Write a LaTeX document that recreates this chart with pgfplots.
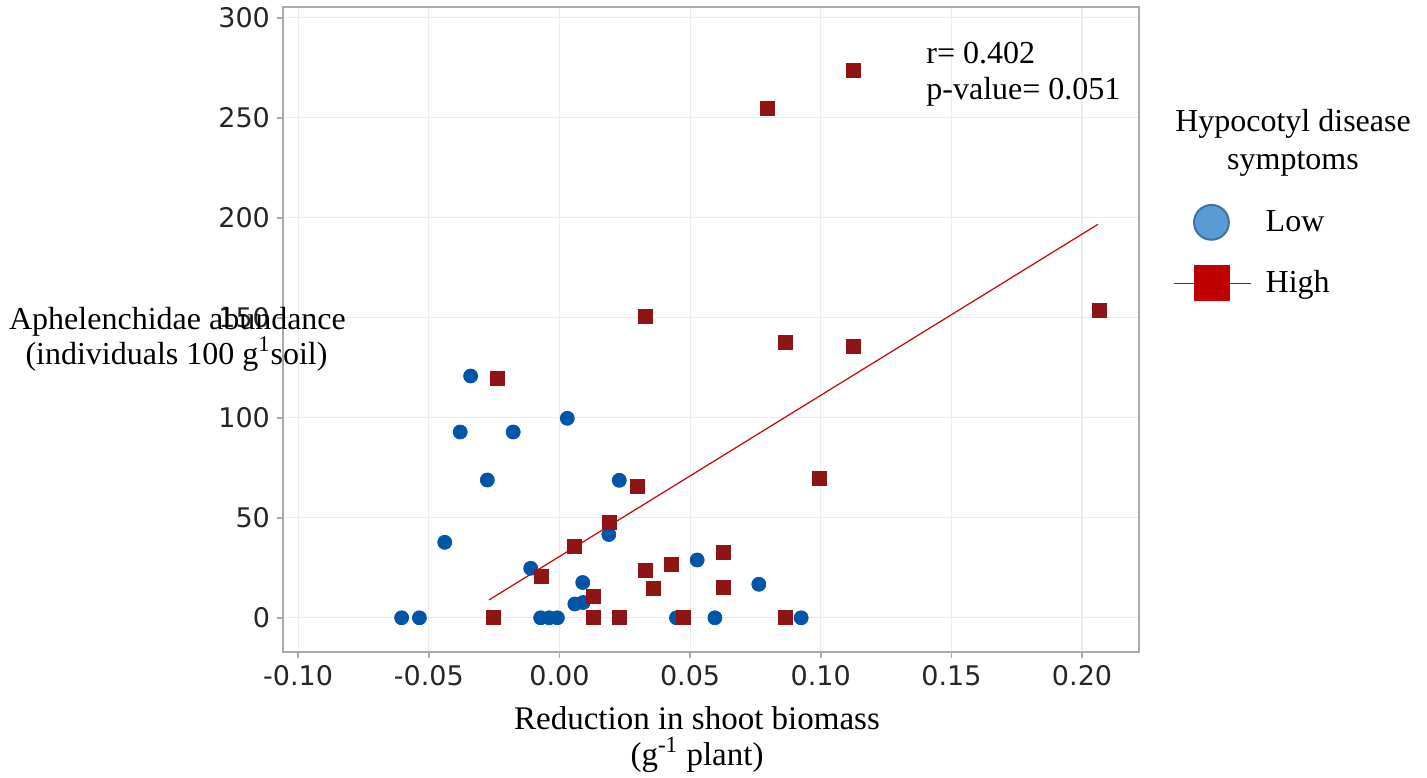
\documentclass[border=0pt]{standalone}
\usepackage{fontspec}
\setmainfont{Liberation Serif}
\newfontfamily\tickfont{DejaVu Sans}
\usepackage{pgfplots}
\pgfplotsset{compat=1.18}
\definecolor{ptblue}{RGB}{0,86,166}
\definecolor{ptred}{RGB}{143,20,20}
\definecolor{fitred}{RGB}{204,0,0}
\definecolor{leglowfill}{RGB}{91,155,213}
\definecolor{leglowdraw}{RGB}{65,113,156}
\definecolor{leghigh}{RGB}{192,0,0}
\definecolor{axgray}{RGB}{170,170,170}
\definecolor{gridgray}{RGB}{236,236,236}
\begin{document}
\begin{tikzpicture}[x=1pt,y=1pt]
\begin{axis}[
  at={(0,0)}, anchor=south west,
  scale only axis, width=428pt, height=322.5pt,
  xmin=-0.1058, xmax=0.2218, ymin=-17.1, ymax=305.4,
  xtick={-0.1,-0.05,0,0.05,0.1,0.15,0.2},
  xticklabels={-0.10,-0.05,0.00,0.05,0.10,0.15,0.20},
  ytick={0,50,100,150,200,250,300},
  yticklabels={0,50,100,150,200,250,300},
  tick align=outside, major tick length=3pt,
  xtick pos=bottom, ytick pos=left,
  tick style={axgray, line width=0.8pt},
  axis line style={axgray, line width=1pt},
  grid=major, major grid style={gridgray, line width=0.6pt},
  ticklabel style={font=\tickfont\fontsize{13.5}{15}\selectfont, text=black!85},
  legend style={at={(1.0394,0.714)}, anchor=north west, draw=none, fill=none,
    inner sep=0pt, row sep=0pt, column sep=7pt,
    nodes={inner sep=0pt, anchor=west},
    font=\fontsize{16}{18}\selectfont},
  legend cell align=left,
]
\addplot[only marks, mark=*, mark size=3.5pt, color=ptblue,
  mark options={draw=ptblue, fill=ptblue},
  legend image code/.code={
    \path[draw=none, fill=none] (0pt,-15.25pt) rectangle (38.5pt,15.25pt);
    \draw[leglowdraw, fill=leglowfill, line width=1pt] (18.75pt,0pt) circle (8.7pt);}
] coordinates {
(-0.034,120.9) (-0.038,92.9) (-0.0177,92.9) (0.003,99.75) (-0.0276,68.9)
(0.0229,68.75) (-0.0439,37.75) (0.0189,41.65) (-0.011,24.75) (0.0089,17.65)
(0.0059,6.9) (0.0091,7.65) (-0.0604,0) (-0.0536,0) (-0.0072,0) (-0.0039,0)
(-0.0008,0) (0.0448,0) (0.0527,28.9) (0.0763,16.75) (0.0595,0) (0.0925,0)
};
\addlegendentry{Low}
\addplot[only marks, mark=square*, mark size=3.5pt, color=ptred,
  mark options={draw=ptred, fill=ptred},
  legend image code/.code={
    \path[draw=none, fill=none] (0pt,-15.25pt) rectangle (38.5pt,15.25pt);
    \draw[leghigh, line width=0.8pt] (0pt,0pt) -- (38.5pt,0pt);
    \fill[leghigh] (10pt,-8.75pt) rectangle (27.5pt,8.75pt);}
] coordinates {
(-0.0238,119.5) (0.0298,65.8) (0.0191,47.75) (0.0059,35.5) (-0.0071,20.5)
(0.0129,10.5) (-0.0253,0) (0.0129,0) (0.0229,0) (0.0329,23.6) (0.0359,14.75)
(0.0428,26.75) (0.0627,32.75) (0.0627,15) (0.0474,0) (0.0864,0) (0.0994,69.75)
(0.1124,273.9) (0.0795,254.75) (0.0328,150.9) (0.0864,137.75) (0.1124,135.9)
(0.2065,153.9)
};
\addlegendentry{High}
\addplot[fitred, line width=0.6pt, forget plot] coordinates {(-0.027,8.9) (0.2061,196.75)};
\end{axis}
\begin{scope}[font=\fontsize{16}{18}\selectfont]
\node[anchor=base west, inner sep=0pt] at (321.5pt,294pt) {r= 0.402};
\node[anchor=base west, inner sep=0pt] at (321.5pt,276pt) {p-value= 0.051};
\node[anchor=base, inner sep=0pt] at (505pt,260.15pt) {Hypocotyl disease};
\node[anchor=base, inner sep=0pt] at (505pt,241pt) {symptoms};
\node[anchor=base, inner sep=0pt] at (-52.75pt,161pt) {Aphelenchidae abundance};
\node[anchor=base, inner sep=0pt] at (-53.25pt,144pt) {(individuals 100 g\textsuperscript{1}soil)};
\end{scope}
\begin{scope}[font=\fontsize{16.5}{18}\selectfont]
\node[anchor=base, inner sep=0pt] at (207pt,-38.5pt) {Reduction in shoot biomass};
\node[anchor=base, inner sep=0pt] at (207pt,-56.5pt) {(g\textsuperscript{-1} plant)};
\end{scope}
\pgfresetboundingbox
\path[use as bounding box] (-141.5pt,-62.5pt) rectangle (572pt,326pt);
\end{tikzpicture}
\end{document}
